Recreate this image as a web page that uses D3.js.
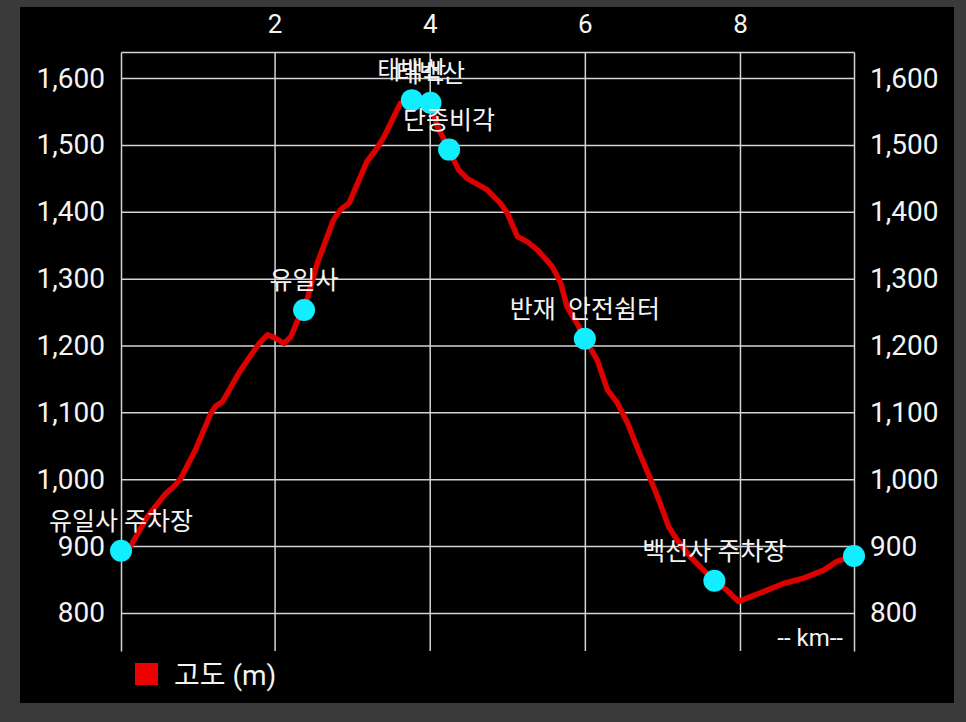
<!DOCTYPE html>
<html>
<head>
<meta charset="utf-8">
<script src="https://cdn.jsdelivr.net/npm/d3@7"></script>
<style>
  html, body { margin: 0; padding: 0; background: #3a3a3a; }
  svg { display: block; }
  text { font-family: Roboto, "Noto Sans CJK KR", sans-serif; }
</style>
</head>
<body>
<svg id="chart" width="966" height="722"></svg>
<script>
// ---- data ----
const distanceKm = [0.02, 0.14, 0.36, 0.60, 0.70, 0.79, 0.98, 1.18, 1.24, 1.33, 1.54, 1.65, 1.80, 1.91, 2.01, 2.12, 2.21, 2.29, 2.38, 2.55, 2.76, 2.85, 2.96, 3.19, 3.32, 3.41, 3.62, 3.77, 4.01, 4.10, 4.25, 4.37, 4.48, 4.74, 4.91, 5.00, 5.13, 5.26, 5.39, 5.58, 5.69, 5.77, 5.90, 6.00, 6.16, 6.29, 6.42, 6.55, 6.67, 6.85, 6.97, 7.08, 7.19, 7.36, 7.53, 7.67, 7.83, 7.98, 8.13, 8.35, 8.56, 8.82, 9.08, 9.25, 9.47];
const elevationM = [893, 899, 944, 979, 989, 1001, 1044, 1099, 1109, 1116, 1159, 1178, 1203, 1216, 1211, 1203, 1213, 1236, 1253, 1323, 1388, 1403, 1413, 1475, 1495, 1512, 1562, 1567, 1563, 1527, 1493, 1463, 1450, 1433, 1413, 1398, 1363, 1355, 1343, 1318, 1293, 1258, 1233, 1210, 1178, 1134, 1114, 1084, 1049, 999, 964, 929, 909, 884, 864, 848, 834, 817, 824, 834, 844, 852, 864, 877, 885];

const markerKm = [0.02, 2.38, 3.77, 4.01, 4.25, 6.00, 7.67, 9.47];
const markerElev = [893, 1253, 1567, 1563, 1493, 1210, 848, 885];
const markerNames = ["유일사 주차장", "유일사", "태백산", "태백산", "단종비각", "반재  안전쉼터", "백선사 주차장", ""];

const xTicks = [2, 4, 6, 8];
const yTicks = [800, 900, 1000, 1100, 1200, 1300, 1400, 1500, 1600];
const xDomain = [0.02, 9.47];
const yDomain = [743, 1639];
const legendLabel = "고도 (m)";
const unitLabel = "-- km--";

// ---- layout ----
const svg = d3.select("#chart");
const L = 121, R = 854, T = 52, B = 651;

svg.append("rect").attr("x", 0).attr("y", 0).attr("width", 966).attr("height", 722).attr("fill", "#3a3a3a");
svg.append("rect").attr("x", 20).attr("y", 7).attr("width", 934).attr("height", 696).attr("fill", "#000");

const x = d3.scaleLinear().domain(xDomain).range([L, R]);
const y = d3.scaleLinear().domain(yDomain).range([B, T]);

const gridColor = "#d4d4d4";

// top x axis with vertical grid lines
const xAxis = svg.append("g").attr("transform", `translate(0,${T})`)
  .call(d3.axisTop(x).tickValues(xTicks).tickSize(-(B - T)).tickSizeOuter(0).tickPadding(19).tickFormat(d3.format("d")));
xAxis.select(".domain").attr("stroke", gridColor).attr("stroke-width", 1.5);
xAxis.selectAll(".tick line").attr("stroke", gridColor).attr("stroke-width", 1.5);
xAxis.selectAll(".tick text").attr("fill", "#f4f4f4").attr("font-size", 26).attr("font-family", "Roboto");

// left y axis with horizontal grid lines
const yAxisL = svg.append("g").attr("transform", `translate(${L},0)`)
  .call(d3.axisLeft(y).tickValues(yTicks).tickSize(-(R - L)).tickSizeOuter(0).tickPadding(16).tickFormat(d3.format(",")));
yAxisL.select(".domain").attr("stroke", gridColor).attr("stroke-width", 1.5);
yAxisL.selectAll(".tick line").attr("stroke", gridColor).attr("stroke-width", 1.5);
yAxisL.selectAll(".tick text").attr("fill", "#f4f4f4").attr("font-size", 28).attr("font-family", "Roboto");

// right y axis
const yAxisR = svg.append("g").attr("transform", `translate(${R},0)`)
  .call(d3.axisRight(y).tickValues(yTicks).tickSize(0).tickSizeOuter(0).tickPadding(16).tickFormat(d3.format(",")));
yAxisR.select(".domain").attr("stroke", gridColor).attr("stroke-width", 1.5);
yAxisR.selectAll(".tick text").attr("fill", "#f4f4f4").attr("font-size", 28).attr("font-family", "Roboto");

// elevation line
const pts = distanceKm.map((d, i) => [d, elevationM[i]]);
const line = d3.line().x(d => x(d[0])).y(d => y(d[1]));
svg.append("path").datum(pts)
  .attr("d", line)
  .attr("fill", "none")
  .attr("stroke", "#dc0000")
  .attr("stroke-width", 5.5)
  .attr("stroke-linejoin", "round")
  .attr("stroke-linecap", "round");

// markers
const mk = markerKm.map((d, i) => ({ km: d, el: markerElev[i], name: markerNames[i] }));
svg.append("g").selectAll("circle").data(mk).join("circle")
  .attr("cx", d => x(d.km)).attr("cy", d => y(d.el)).attr("r", 11)
  .attr("fill", "#11eeff");
svg.append("g").selectAll("text").data(mk).join("text")
  .attr("x", d => x(d.km)).attr("y", d => y(d.el) - 21)
  .attr("text-anchor", "middle")
  .attr("fill", "#f4f4f4")
  .attr("font-size", 25)
  .attr("font-family", "'Noto Sans CJK KR', sans-serif")
  .style("white-space", "pre")
  .text(d => d.name);

// unit label
svg.append("text").attr("x", 843).attr("y", 646).attr("text-anchor", "end")
  .attr("fill", "#f4f4f4").attr("font-size", 24).attr("font-family", "Roboto")
  .text(unitLabel);

// legend
svg.append("rect").attr("x", 135).attr("y", 663).attr("width", 23).attr("height", 22).attr("fill", "#ee0000");
svg.append("text").attr("x", 174).attr("y", 685)
  .attr("fill", "#f4f4f4").attr("font-size", 28).attr("font-family", "Roboto, 'Noto Sans CJK KR', sans-serif")
  .text(legendLabel);
</script>
</body>
</html>
